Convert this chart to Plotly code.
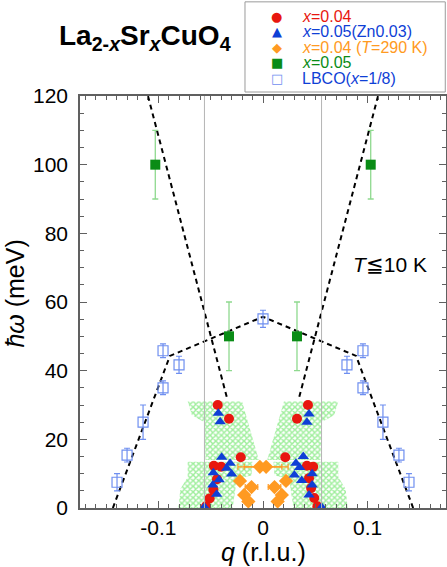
# spin excitation dispersion in La2-xSrxCuO4 compared with LBCO

import plotly.graph_objects as go

# x=0.04 (red circles)
red_q = [-0.0433, -0.0325, -0.0213, -0.047, -0.040, -0.044, -0.0475, -0.051, -0.0545,
         0.043, 0.0325, 0.0213, 0.042, 0.048, 0.044, 0.046, 0.049, 0.052]
red_E = [30, 26, 14.8, 12.3, 12.0, 8.4, 5.3, 2.8, 0.5,
         30, 26, 14.8, 12.3, 12.0, 8.7, 5.8, 2.9, 0.5]

# x=0.05 (Zn0.03) (blue triangles)
blue_q = [-0.0427, -0.041, -0.0395, -0.0315, -0.0347, -0.0475, -0.030, -0.042, -0.048, -0.0443, -0.056,
          0.044, 0.042, 0.0385, 0.0315, 0.035, 0.047, 0.030, 0.037, 0.047, 0.044, 0.056]
blue_E = [27.6, 25.1, 14.8, 13.0, 11.6, 10.3, 9.9, 8.2, 6.7, 4.0, 0.3,
          27.4, 25.0, 15.0, 13.0, 11.8, 10.0, 9.6, 8.0, 6.7, 3.8, 0.3]

# x=0.04, T=290 K (orange diamonds)
orange_q = [-0.003, 0.003, -0.022, 0.022, -0.011, 0.011, -0.018, 0.018, -0.014, 0.014]
orange_E = [12, 12, 7.9, 7.9, 6.1, 6.1, 3.8, 3.8, 1.9, 1.9]
orange_dq = [0.021, 0.021, 0, 0, 0.006, 0.006, 0, 0, 0, 0]

# x=0.05 (green squares)
green_q = [-0.103, -0.0325, 0.0325, 0.103]
green_E = [100, 50, 50, 100]
green_dE = [10, 10, 10, 10]

# LBCO x=1/8 (open squares)
lbco_q = [-0.1396, -0.130, -0.1147, -0.0956, -0.0956, -0.0803, 0,
          0.0803, 0.0956, 0.0956, 0.1147, 0.130, 0.1396]
lbco_E = [7.5, 15.4, 25, 35, 45.8, 41.7, 55.1, 41.7, 45.8, 35, 25, 15.4, 7.5]
lbco_dE = [2.5, 2, 5, 2, 2, 2.5, 2.5, 2.5, 2, 2, 5, 2, 2.5]

# dashed guide lines
upper_left_q = [-0.110, -0.0344]
upper_left_E = [120, 32]
upper_right_q = [0.110, 0.0344]
upper_right_E = [120, 32]
lbco_line_q = [-0.1436, -0.089, 0, 0.089, 0.1436]
lbco_line_E = [0, 44.3, 55.7, 44.3, 0]

# hatched (green) intensity regions
hatch_ul_q = [-0.072, -0.020, -0.004, -0.055, -0.056, -0.068]
hatch_ul_E = [31, 31, 14, 14, 25, 27]
hatch_ur_q = [0.072, 0.020, 0.004, 0.055, 0.056, 0.068]
hatch_ur_E = [31, 31, 14, 14, 25, 27]
hatch_ll_q = [-0.072, -0.010, -0.011, -0.025, -0.029, -0.081, -0.079, -0.0745, -0.072]
hatch_ll_E = [13.5, 13.5, 9.5, 8.5, 0, 0, 5.5, 8, 9]
hatch_lr_q = [0.072, 0.010, 0.011, 0.025, 0.029, 0.081, 0.079, 0.0745, 0.072]
hatch_lr_E = [13.5, 13.5, 9.5, 8.5, 0, 0, 5.5, 8, 9]

vline_q = [-0.056, 0.056]

x_tickvals = [-0.1, 0, 0.1]
x_ticktext = ['-0.1', '0', '0.1']

FONT = "Liberation Sans, Arial, sans-serif"
RED = '#e8170f'
BLUE = '#0f3fd6'
ORANGE = '#ff9a22'
GREEN = '#0a8c16'
LBCO = '#6f8ff0'

# legend rows: symbol, symbol colour, label, label colour
legend_symbols = ['●', '▲', '◆', '■', '□']
legend_symbol_colors = [RED, BLUE, ORANGE, GREEN, LBCO]
legend_labels = ['<i>x</i>=0.04', '<i>x</i>=0.05(Zn0.03)', '<i>x</i>=0.04 (<i>T</i>=290 K)',
                 '<i>x</i>=0.05', 'LBCO(<i>x</i>=1/8)']
legend_label_colors = [RED, BLUE, ORANGE, GREEN, BLUE]

fig = go.Figure()

for q, E in [(hatch_ul_q, hatch_ul_E), (hatch_ur_q, hatch_ur_E),
             (hatch_ll_q, hatch_ll_E), (hatch_lr_q, hatch_lr_E)]:
    fig.add_trace(go.Scatter(
        x=q + q[:1], y=E + E[:1], mode='lines', fill='toself',
        line=dict(width=0, color='rgba(0,0,0,0)'),
        fillcolor='rgba(0,0,0,0)',
        fillpattern=dict(shape='x', fgcolor='#40de3a', size=4, solidity=0.6),
        hoverinfo='skip'))

for v in vline_q:
    fig.add_vline(x=v, line=dict(color='#b4b4b4', width=1))

for q, E in [(upper_left_q, upper_left_E), (upper_right_q, upper_right_E),
             (lbco_line_q, lbco_line_E)]:
    fig.add_trace(go.Scatter(x=q, y=E, mode='lines',
                             line=dict(color='black', width=2, dash='5px,4px'),
                             hoverinfo='skip'))

fig.add_trace(go.Scatter(
    x=green_q, y=green_E, mode='markers',
    marker=dict(symbol='square', size=10, color=GREEN),
    error_y=dict(type='data', array=green_dE, color='#8fd98f', thickness=1.3, width=3)))

fig.add_trace(go.Scatter(
    x=lbco_q, y=lbco_E, mode='markers',
    marker=dict(symbol='square-open', size=10, color=LBCO, line=dict(width=1.2)),
    error_y=dict(type='data', array=lbco_dE, color=LBCO, thickness=1.2, width=3)))

fig.add_trace(go.Scatter(
    x=orange_q, y=orange_E, mode='markers',
    marker=dict(symbol='diamond', size=11, color=ORANGE),
    error_x=dict(type='data', array=orange_dq, color=ORANGE, thickness=1.2, width=3)))

fig.add_trace(go.Scatter(
    x=red_q, y=red_E, mode='markers',
    marker=dict(symbol='circle', size=10, color=RED)))

fig.add_trace(go.Scatter(
    x=blue_q, y=blue_E, mode='markers',
    marker=dict(symbol='triangle-up', size=10, color=BLUE)))

axis_common = dict(
    showline=True, linecolor='#606060', linewidth=1.5, mirror='ticks',
    ticks='inside', ticklen=7, tickwidth=1.2, tickcolor='#606060',
    showgrid=False, zeroline=False,
    tickfont=dict(family=FONT, size=21, color='black'),
)

fig.update_layout(
    width=447, height=567,
    margin=dict(l=80, r=1, t=96, b=59, autoexpand=False),
    paper_bgcolor='white', plot_bgcolor='white',
    font=dict(family=FONT, color='black'),
    showlegend=False,
    xaxis=dict(range=[-0.175, 0.175], tickvals=x_tickvals, ticktext=x_ticktext,
               minor=dict(dtick=0.01, ticks='inside', ticklen=4, tickcolor='#606060'),
               **axis_common),
    yaxis=dict(range=[0, 120], dtick=20, ticklabelstandoff=6,
               minor=dict(dtick=5, ticks='inside', ticklen=4, tickcolor='#606060'),
               **axis_common),
)

# legend box drawn by hand so the rows can sit as tightly as in the original
fig.add_shape(type='rect', xref='paper', yref='paper',
              x0=0.4508, x1=0.998, y0=1.0097, y1=1.2285,
              line=dict(color='#9a9a9a', width=1), fillcolor='white')
row_y0 = 1.2 - 0.007
row_step = 0.0376
for i in range(len(legend_labels)):
    y = row_y0 - i * row_step
    fig.add_annotation(
        text=legend_symbols[i], xref='paper', yref='paper', x=0.538, y=y,
        xanchor='center', yanchor='middle', showarrow=False,
        font=dict(family='DejaVu Sans', size=13, color=legend_symbol_colors[i]))
    fig.add_annotation(
        text=f'<span style="color:{legend_label_colors[i]}">{legend_labels[i]}</span>',
        xref='paper', yref='paper', x=0.601, y=y,
        xanchor='left', yanchor='middle', showarrow=False,
        font=dict(family=FONT, size=16, color=legend_label_colors[i]))

fig.add_annotation(
    text='<b>La<sub>2-<i>x</i></sub>Sr<sub><i>x</i></sub>CuO<sub>4</sub></b>',
    xref='paper', yref='paper', x=0.178, y=1.143, xanchor='center', yanchor='middle',
    showarrow=False, font=dict(family=FONT, size=28, color='black'))

fig.add_annotation(
    text='<i>ħω</i> (meV)', textangle=-90,
    xref='paper', yref='paper', x=-0.178, y=0.52, xanchor='center', yanchor='middle',
    showarrow=False, font=dict(family=FONT, size=25, color='black'))

fig.add_annotation(
    text='<i>q</i> (r.l.u.)',
    xref='paper', yref='paper', x=0.5, y=-0.106, xanchor='center', yanchor='middle',
    showarrow=False, font=dict(family=FONT, size=25, color='black'))

fig.add_annotation(
    text='<i>T</i>≦10 K',
    xref='paper', yref='paper', x=0.847, y=0.59, xanchor='center', yanchor='middle',
    showarrow=False, font=dict(family=FONT, size=21, color='black'))

# page body has a default 8px margin; drop it so the figure sits at the window corner
fig.write_html("out.html", config={'displayModeBar': False},
               post_script="document.body.style.margin = '0px';")
